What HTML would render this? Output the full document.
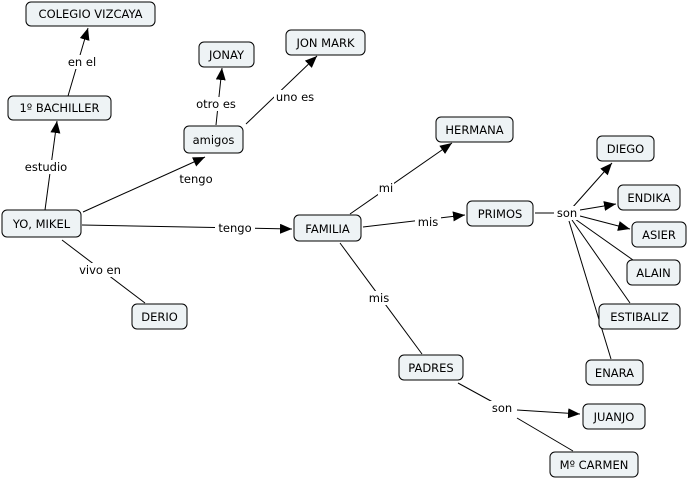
<!DOCTYPE html>
<html><head><meta charset="utf-8"><style>
body{margin:0;background:#fff;width:687px;height:479px;overflow:hidden}
svg{display:block}
text{font-family:"DejaVu Sans","Liberation Sans",sans-serif;font-size:11.5px;fill:#000}
.n{fill:#eef3f5;stroke:#000;stroke-width:1}
.l{stroke:#000;stroke-width:1;fill:none}
.lb{fill:#fff}
</style></head><body>
<svg width="687" height="479" viewBox="0 0 687 479">
<defs><marker id="a" viewBox="0 0 12 10" refX="12" refY="5" markerWidth="12" markerHeight="10" markerUnits="userSpaceOnUse" orient="auto"><path d="M0,0L12,5L0,10z" fill="#000"/></marker></defs>
<g class="l">
<line x1="45" y1="210" x2="57" y2="121" marker-end="url(#a)"/>
<line x1="68" y1="96" x2="88" y2="28" marker-end="url(#a)"/>
<line x1="83" y1="212" x2="205" y2="157" marker-end="url(#a)"/>
<line x1="216" y1="125" x2="222" y2="68" marker-end="url(#a)"/>
<line x1="246" y1="124" x2="317" y2="56" marker-end="url(#a)"/>
<line x1="82" y1="225" x2="292" y2="229" marker-end="url(#a)"/>
<line x1="62" y1="240" x2="145" y2="303"/>
<line x1="350" y1="214" x2="452" y2="143" marker-end="url(#a)"/>
<line x1="363" y1="227" x2="465" y2="215" marker-end="url(#a)"/>
<line x1="340" y1="243" x2="422" y2="354"/>
<line x1="535" y1="213" x2="556" y2="213"/>
<line x1="572" y1="208" x2="612" y2="163" marker-end="url(#a)"/>
<line x1="580" y1="210" x2="616" y2="204" marker-end="url(#a)"/>
<line x1="580" y1="216" x2="630" y2="229" marker-end="url(#a)"/>
<line x1="575" y1="219" x2="633" y2="260"/>
<line x1="572" y1="220" x2="630" y2="303"/>
<line x1="569" y1="221" x2="611" y2="359"/>
<line x1="458" y1="383" x2="500" y2="406"/>
<line x1="517" y1="410" x2="580" y2="414" marker-end="url(#a)"/>
<line x1="517" y1="418" x2="573" y2="451"/>
</g>
<g class="lb">
<rect x="65" y="55" width="34" height="14"/><rect x="22" y="160" width="48" height="14"/>
<rect x="176" y="172" width="40" height="14"/><rect x="215" y="221" width="40" height="14"/>
<rect x="193" y="97" width="46" height="14"/><rect x="274" y="90" width="42" height="14"/>
<rect x="76" y="263" width="48" height="14"/><rect x="378" y="181" width="16" height="14"/>
<rect x="415" y="215" width="26" height="14"/><rect x="367" y="291" width="24" height="14"/>
<rect x="554" y="206" width="26" height="14"/><rect x="488" y="401" width="28" height="14"/>
</g>
<g>
<text x="82" y="66" text-anchor="middle">en el</text>
<text x="46" y="171" text-anchor="middle">estudio</text>
<text x="196" y="183" text-anchor="middle">tengo</text>
<text x="235" y="232" text-anchor="middle">tengo</text>
<text x="216" y="108" text-anchor="middle">otro es</text>
<text x="295" y="101" text-anchor="middle">uno es</text>
<text x="100" y="274" text-anchor="middle">vivo en</text>
<text x="386" y="192" text-anchor="middle">mi</text>
<text x="428" y="226" text-anchor="middle">mis</text>
<text x="379" y="302" text-anchor="middle">mis</text>
<text x="567" y="217" text-anchor="middle">son</text>
<text x="502" y="412" text-anchor="middle">son</text>
</g>
<g>
<rect class="n" x="26" y="2" width="129" height="24" rx="5"/><text x="90.5" y="18" text-anchor="middle">COLEGIO VIZCAYA</text>
<rect class="n" x="8" y="96" width="103" height="24" rx="5"/><text x="59.5" y="112" text-anchor="middle">1º BACHILLER</text>
<rect class="n" x="199" y="42" width="55" height="25" rx="5"/><text x="226.5" y="59" text-anchor="middle">JONAY</text>
<rect class="n" x="286" y="30" width="79" height="25" rx="5"/><text x="325.5" y="47" text-anchor="middle">JON MARK</text>
<rect class="n" x="184" y="126" width="59" height="27" rx="5"/><text x="213.5" y="144" text-anchor="middle">amigos</text>
<rect class="n" x="2" y="210" width="79" height="27" rx="5"/><text x="41.5" y="228" text-anchor="middle">YO, MIKEL</text>
<rect class="n" x="294" y="215" width="67" height="26" rx="5"/><text x="327.5" y="233" text-anchor="middle">FAMILIA</text>
<rect class="n" x="436" y="117" width="77" height="25" rx="5"/><text x="474.5" y="134" text-anchor="middle">HERMANA</text>
<rect class="n" x="467" y="201" width="66" height="25" rx="5"/><text x="500" y="218" text-anchor="middle">PRIMOS</text>
<rect class="n" x="597" y="136" width="57" height="25" rx="5"/><text x="625.5" y="153" text-anchor="middle">DIEGO</text>
<rect class="n" x="618" y="185" width="62" height="25" rx="5"/><text x="649" y="202" text-anchor="middle">ENDIKA</text>
<rect class="n" x="632" y="222" width="54" height="25" rx="5"/><text x="659" y="239" text-anchor="middle">ASIER</text>
<rect class="n" x="627" y="260" width="53" height="25" rx="5"/><text x="653.5" y="277" text-anchor="middle">ALAIN</text>
<rect class="n" x="599" y="304" width="81" height="25" rx="5"/><text x="639.5" y="321" text-anchor="middle">ESTIBALIZ</text>
<rect class="n" x="586" y="360" width="57" height="25" rx="5"/><text x="614.5" y="377" text-anchor="middle">ENARA</text>
<rect class="n" x="132" y="304" width="55" height="25" rx="5"/><text x="159.5" y="321" text-anchor="middle">DERIO</text>
<rect class="n" x="399" y="355" width="64" height="25" rx="5"/><text x="431" y="372" text-anchor="middle">PADRES</text>
<rect class="n" x="583" y="404" width="62" height="25" rx="5"/><text x="614" y="421" text-anchor="middle">JUANJO</text>
<rect class="n" x="550" y="452" width="88" height="25" rx="5"/><text x="594" y="469" text-anchor="middle">Mº CARMEN</text>
</g>
</svg>
</body></html>
